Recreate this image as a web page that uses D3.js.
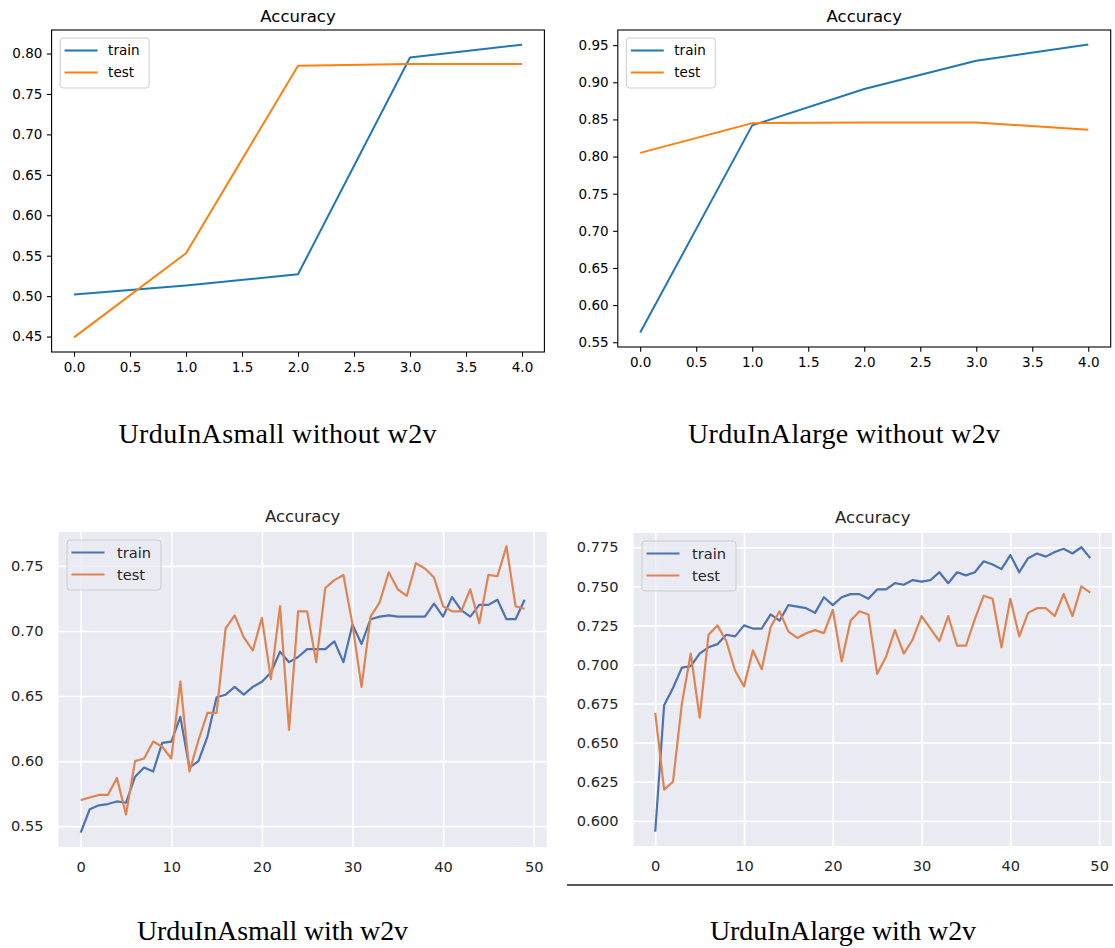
<!DOCTYPE html>
<html><head><meta charset="utf-8">
<script src="https://cdn.jsdelivr.net/npm/d3@7"></script>
<style>body{margin:0;background:#fff} svg{display:block}</style>
</head><body>
<svg id="c" width="1115" height="948"></svg>
<script>
// ---------------- data ----------------
const seriesNames = ["train", "test"];

const smallNoW2vTrain = [0.502, 0.513, 0.527, 0.795, 0.811];
const smallNoW2vTest  = [0.449, 0.553, 0.785, 0.787, 0.787];

const largeNoW2vTrain = [0.563, 0.842, 0.891, 0.929, 0.951];
const largeNoW2vTest  = [0.805, 0.845, 0.846, 0.846, 0.836];

const smallW2vTrain = [0.545, 0.563, 0.566, 0.567, 0.569, 0.568, 0.588, 0.595, 0.592, 0.614,
  0.615, 0.634, 0.595, 0.600, 0.619, 0.649, 0.651, 0.657, 0.651, 0.657,
  0.661, 0.668, 0.684, 0.676, 0.680, 0.686, 0.686, 0.686, 0.692, 0.676,
  0.705, 0.690, 0.709, 0.711, 0.712, 0.711, 0.711, 0.711, 0.711, 0.721,
  0.711, 0.726, 0.716, 0.711, 0.720, 0.720, 0.724, 0.709, 0.709, 0.724];
const smallW2vTest = [0.570, 0.572, 0.574, 0.574, 0.587, 0.559, 0.600, 0.602, 0.615, 0.611,
  0.602, 0.661, 0.592, 0.616, 0.637, 0.637, 0.702, 0.712, 0.695, 0.685,
  0.710, 0.663, 0.719, 0.624, 0.715, 0.715, 0.676, 0.733, 0.739, 0.743,
  0.705, 0.657, 0.711, 0.722, 0.745, 0.732, 0.727, 0.752, 0.748, 0.741,
  0.719, 0.715, 0.715, 0.732, 0.706, 0.743, 0.742, 0.765, 0.719, 0.717];

const largeW2vTrain = [0.593, 0.674, 0.685, 0.698, 0.699, 0.707, 0.711, 0.713, 0.719, 0.718,
  0.725, 0.723, 0.723, 0.732, 0.728, 0.738, 0.737, 0.736, 0.733, 0.743,
  0.738, 0.743, 0.745, 0.745, 0.742, 0.748, 0.748, 0.752, 0.751, 0.754,
  0.753, 0.754, 0.759, 0.752, 0.759, 0.757, 0.759, 0.766, 0.764, 0.761,
  0.770, 0.759, 0.768, 0.771, 0.769, 0.772, 0.774, 0.771, 0.775, 0.768];
const largeW2vTest = [0.669, 0.620, 0.625, 0.675, 0.707, 0.666, 0.719, 0.725, 0.715, 0.696,
  0.686, 0.709, 0.697, 0.724, 0.734, 0.721, 0.717, 0.720, 0.722, 0.720,
  0.735, 0.702, 0.728, 0.734, 0.732, 0.694, 0.705, 0.722, 0.707, 0.716,
  0.731, 0.723, 0.715, 0.731, 0.712, 0.712, 0.729, 0.744, 0.742, 0.711,
  0.742, 0.718, 0.733, 0.736, 0.736, 0.731, 0.745, 0.731, 0.750, 0.746];

const xTicksShort = [0, 0.5, 1, 1.5, 2, 2.5, 3, 3.5, 4];
const xTicksLong = [0, 10, 20, 30, 40, 50];
const yTicksSmallNo = [0.45, 0.50, 0.55, 0.60, 0.65, 0.70, 0.75, 0.80];
const yTicksLargeNo = [0.55, 0.60, 0.65, 0.70, 0.75, 0.80, 0.85, 0.90, 0.95];
const yTicksSmallW2v = [0.55, 0.60, 0.65, 0.70, 0.75];
const yTicksLargeW2v = [0.600, 0.625, 0.650, 0.675, 0.700, 0.725, 0.750, 0.775];

const chartTitle = "Accuracy";
const captions = ["UrduInAsmall without w2v", "UrduInAlarge without w2v",
                  "UrduInAsmall with w2v", "UrduInAlarge with w2v"];

// ---------------- drawing ----------------
const svg = d3.select('#c');
const FONT = "'DejaVu Sans', sans-serif";

function panel(o) {
  const sea = o.style === 'seaborn';
  const g = svg.append('g');
  const n = o.train.length;
  const x = d3.scaleLinear().domain([-(n - 1) * 0.05, (n - 1) * 1.05]).range([o.left, o.right]);
  const all = o.train.concat(o.test);
  const lo = d3.min(all), hi = d3.max(all), sp = hi - lo;
  const y = d3.scaleLinear().domain([lo - 0.05 * sp, hi + 0.05 * sp]).range([o.bottom, o.top]);
  const h = o.bottom - o.top, w = o.right - o.left;
  const textCol = sea ? '#262626' : '#000';
  const tickFs = sea ? 14.6 : 13.5;
  const colors = sea ? ['#4C72B0', '#DD8452'] : ['#1f77b4', '#ff7f0e'];

  if (sea) {
    g.append('rect').attr('x', o.left).attr('y', o.top).attr('width', w).attr('height', h).attr('fill', '#EAEAF2');
  }
  const xa = g.append('g').attr('transform', `translate(0,${o.bottom})`)
    .call(d3.axisBottom(x).tickValues(o.xTicks).tickFormat(o.xFmt)
      .tickSize(sea ? -h : 4.7).tickPadding(sea ? 14.6 : 6));
  const ya = g.append('g').attr('transform', `translate(${o.left},0)`)
    .call(d3.axisLeft(y).tickValues(o.yTicks).tickFormat(o.yFmt)
      .tickSize(sea ? -w : 4.7).tickPadding(sea ? 15 : 4.5));
  [xa, ya].forEach(a => {
    a.select('.domain').remove();
    a.selectAll('line').attr('stroke', sea ? '#fff' : '#000').attr('stroke-width', sea ? 1.6 : 1.1);
    a.selectAll('text').attr('fill', textCol).style('font-family', FONT).style('font-size', tickFs + 'px');
  });

  if (!sea) {
    g.append('rect').attr('x', o.left).attr('y', o.top).attr('width', w).attr('height', h)
      .attr('fill', 'none').attr('stroke', '#000').attr('stroke-width', 1.1);
  }

  const line = d3.line().x((d, i) => x(i)).y(d => y(d));
  [o.train, o.test].forEach((s, k) => {
    g.append('path').datum(s).attr('d', line).attr('fill', 'none')
      .attr('stroke', colors[k]).attr('stroke-width', sea ? 2.2 : 2)
      .attr('stroke-linejoin', 'round').attr('stroke-linecap', 'butt');
  });

  g.append('text').attr('x', (o.left + o.right) / 2).attr('y', o.top - (sea ? 10.5 : 8))
    .attr('text-anchor', 'middle').attr('fill', textCol)
    .style('font-family', FONT).style('font-size', '16.5px').text(chartTitle);

  // legend
  const lx = o.left + 8.5, ly = o.top + 8, lw = sea ? 94 : 89, lh = 50;
  const lg = g.append('g');
  lg.append('rect').attr('x', lx).attr('y', ly).attr('width', lw).attr('height', lh)
    .attr('rx', 3).attr('fill', sea ? '#EAEAF2' : '#fff').attr('fill-opacity', 0.8)
    .attr('stroke', '#CCCCCC').attr('stroke-width', 1);
  seriesNames.forEach((nm, k) => {
    const yy = ly + 12.5 + k * 22;
    lg.append('line').attr('x1', lx + 4.5).attr('x2', lx + 37.5).attr('y1', yy).attr('y2', yy)
      .attr('stroke', colors[k]).attr('stroke-width', sea ? 2.2 : 2);
    lg.append('text').attr('x', lx + (sea ? 50 : 48)).attr('y', yy).attr('dy', '0.35em')
      .attr('fill', textCol).style('font-family', FONT).style('font-size', (sea ? 14.6 : 13.5) + 'px').text(nm);
  });
}

const f1 = d3.format('.1f'), f2 = d3.format('.2f'), f3 = d3.format('.3f'), f0 = d3.format('d');

panel({style: 'classic', train: smallNoW2vTrain, test: smallNoW2vTest,
  left: 51.6, right: 544.4, top: 30, bottom: 352,
  xTicks: xTicksShort, yTicks: yTicksSmallNo, xFmt: f1, yFmt: f2});
panel({style: 'classic', train: largeNoW2vTrain, test: largeNoW2vTest,
  left: 617.8, right: 1110.7, top: 30, bottom: 347,
  xTicks: xTicksShort, yTicks: yTicksLargeNo, xFmt: f1, yFmt: f2});
panel({style: 'seaborn', train: smallW2vTrain, test: smallW2vTest,
  left: 58.5, right: 546.8, top: 532, bottom: 847,
  xTicks: xTicksLong, yTicks: yTicksSmallW2v, xFmt: f0, yFmt: f2});
panel({style: 'seaborn', train: largeW2vTrain, test: largeW2vTest,
  left: 633.5, right: 1112, top: 533, bottom: 846,
  xTicks: xTicksLong, yTicks: yTicksLargeW2v, xFmt: f0, yFmt: f3});

// rule under the bottom-right figure
svg.append('line').attr('x1', 567).attr('x2', 1113).attr('y1', 885).attr('y2', 885)
  .attr('stroke', '#222').attr('stroke-width', 1.4);

// captions
const capPos = [[277.5, 443, 318], [844, 443, 312], [272.5, 940, 271], [843, 940, 266]];
captions.forEach((c, i) => {
  svg.append('text').attr('x', capPos[i][0]).attr('y', capPos[i][1])
    .attr('text-anchor', 'middle').attr('fill', '#000')
    .attr('textLength', capPos[i][2]).attr('lengthAdjust', 'spacing')
    .style('font-family', "'Liberation Serif', serif").style('font-size', '28px').text(c);
});
</script>
</body></html>
